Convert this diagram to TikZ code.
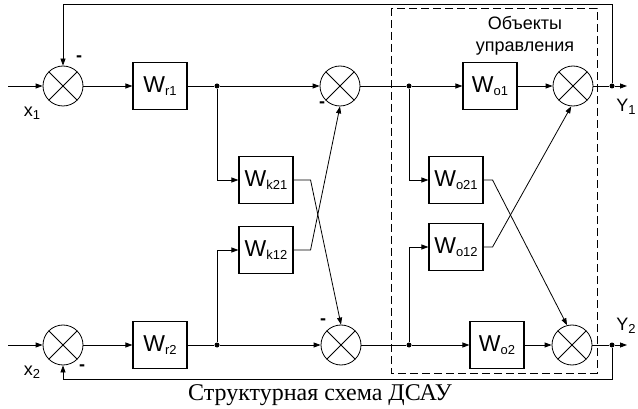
\documentclass[tikz,border=0pt]{standalone}
\usepackage{fontspec}
\setmainfont{Liberation Serif}
\setsansfont{Liberation Sans}
\usetikzlibrary{arrows.meta, calc}

% lowered small index after a letter
\newcommand{\lowidx}[1]{\raisebox{-3pt}{\fontsize{13}{13}\selectfont #1}}

\begin{document}
\begin{tikzpicture}[
  x=1pt, y=-1pt,
  >={Triangle[length=7pt, width=5pt]},
  font=\sffamily\fontsize{18}{22}\selectfont,
  line width=0.8pt,
  blk/.style={draw, line width=1.1pt, minimum width=54pt, minimum height=47pt,
    inner sep=0pt, font=\sffamily\fontsize{23}{26}\selectfont},
  sumj/.style={draw, circle, minimum size=40pt, inner sep=0pt,
    path picture={
      \draw (path picture bounding box.north west) -- (path picture bounding box.south east)
            (path picture bounding box.north east) -- (path picture bounding box.south west);}},
  dot/.style={circle, fill, inner sep=0pt, minimum size=5pt},
  ]
  \useasboundingbox (0,0) rectangle (638,409);

  % summing junctions
  \node[sumj] (s11) at (63,86) {};
  \node[sumj] (s12) at (340,86) {};
  \node[sumj] (s13) at (573,86) {};
  \node[sumj] (s21) at (63,345) {};
  \node[sumj] (s22) at (341,345) {};
  \node[sumj] (s23) at (572,345) {};

  % transfer blocks
  \node[blk] (wr1) at (160,86) {W\lowidx{r1}};
  \node[blk] (wr2) at (160,345) {W\lowidx{r2}};
  \node[blk] (wk21) at (266,180) {W\lowidx{k21}};
  \node[blk] (wk12) at (266,250) {W\lowidx{k12}};
  \node[blk] (wo1) at (490,86) {W\lowidx{o1}};
  \node[blk] (wo2) at (497,345) {W\lowidx{o2}};
  \node[blk] (wo21) at (456,180) {W\lowidx{o21}};
  \node[blk] (wo12) at (456,247) {W\lowidx{o12}};

  % branch points
  \node[dot] (d1) at (217,86) {};
  \node[dot] (d2) at (217,345) {};
  \node[dot] (d3) at (409,86) {};
  \node[dot] (d4) at (409,345) {};
  \node[dot] (y1dot) at (612,86) {};
  \node[dot] (y2dot) at (612,345) {};

  \coordinate (in1) at (8,86);
  \coordinate (in2) at (8,345);
  \coordinate (out1) at (627,86);
  \coordinate (out2) at (627,345);
  \coordinate (top) at (0,4);
  \coordinate (bot) at (0,379);

  % channel 1
  \draw[->] (in1) -- (s11);
  \draw[->] (s11) -- (wr1);
  \draw (wr1) -- (d1);
  \draw[->] (d1) -- (s12);
  \draw[->] (d1) |- (wk21);
  \draw (s12) -- (d3);
  \draw[->] (d3) -- (wo1);
  \draw[->] (d3) |- (wo21);
  \draw[->] (wo1) -- (s13);
  \draw (s13) -- (y1dot);
  \draw[->] (y1dot) -- (out1);
  \draw[->] (y1dot) |- (top -| s11) -- (s11);

  % channel 2
  \draw[->] (in2) -- (s21);
  \draw[->] (s21) -- (wr2);
  \draw (wr2) -- (d2);
  \draw[->] (d2) -- (s22);
  \draw[->] (d2) |- (wk12);
  \draw (s22) -- (d4);
  \draw[->] (d4) -- (wo2);
  \draw[->] (d4) |- (wo12);
  \draw[->] (wo2) -- (s23);
  \draw (s23) -- (y2dot);
  \draw[->] (y2dot) -- (out2);
  \draw[->] (y2dot) |- (bot -| s21) -- (s21);

  % cross links
  \draw[->] (wk21.east) -- ++(17,0) -- (s22.north);
  \draw[->] (wk12.east) -- ++(17,0) -- (s12.south);
  \draw[->] (wo21.east) -- ++(9,0) -- (s23.104);
  \draw[->] (wo12.east) -- ++(9,0) -- (s13.265);

  % plant boundary
  \draw[dash pattern=on 8pt off 4pt] (391,8) rectangle (597,373);
  \node[align=center] (obj) at (525,36) {Объекты\\управления};

  % signal labels and signs
  \node (x1) at (32,113) {x\lowidx{1}};
  \node (x2) at (32,372) {x\lowidx{2}};
  \node (y1) at (626,107) {Y\lowidx{1}};
  \node (y2) at (626,326) {Y\lowidx{2}};
  \node[font=\sffamily\bfseries\fontsize{18}{22}\selectfont] (m11) at (79,59) {-};
  \node[font=\sffamily\bfseries\fontsize{18}{22}\selectfont] (m21) at (82,368) {-};
  \node[font=\sffamily\bfseries\fontsize{18}{22}\selectfont] (m12) at (322,105) {-};
  \node[font=\sffamily\bfseries\fontsize{18}{22}\selectfont] (m22) at (323,322) {-};

  \node[font=\rmfamily\fontsize{24}{28}\selectfont] (cap) at (320,395) {Структурная схема ДСАУ};
\end{tikzpicture}
\end{document}
